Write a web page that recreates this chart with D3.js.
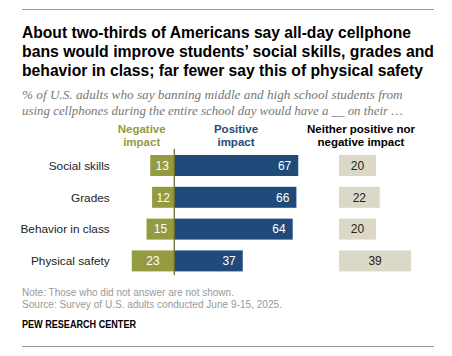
<!DOCTYPE html>
<html><head><meta charset="utf-8">
<script src="https://cdn.jsdelivr.net/npm/d3@7"></script>
<style>body{margin:0;background:#fff}svg{display:block}</style>
</head><body>
<script>
const categories = ["Social skills","Grades","Behavior in class","Physical safety"];
const negative = [13,12,15,23];
const positive = [67,66,64,37];
const neither = [20,22,20,39];
const titleLines = ["About two-thirds of Americans say all-day cellphone","bans would improve students\u2019 social skills, grades and","behavior in class; far fewer say this of physical safety"];
const subtitleLines = ["% of U.S. adults who say banning middle and high school students from","using cellphones during the entire school day would have a __ on their \u2026"];
const headers = {neg:["Negative","impact"],pos:["Positive","impact"],nei:["Neither positive nor","negative impact"]};
const notes = ["Note: Those who did not answer are not shown.","Source: Survey of U.S. adults conducted June 9-15, 2025."];
const credit = "PEW RESEARCH CENTER";

const W=452,H=356;
const svg=d3.select("body").append("svg").attr("width",W).attr("height",H);
const sans="'Liberation Sans', Arial, sans-serif";
const cNeg="#949a3f", cPos="#1f4a7a", cNei="#dcd8c7";

function fitText(sel,target){
  const n=sel.node(); const w=n.getComputedTextLength();
  if(Math.abs(w-target)>1) sel.attr("textLength",target).attr("lengthAdjust","spacingAndGlyphs");
}
function fitSize(sel,target,fs){
  const w=sel.node().getComputedTextLength();
  sel.attr("font-size",(fs*target/w).toFixed(2));
}
// rules
svg.append("line").attr("x1",22).attr("x2",434).attr("y1",9.5).attr("y2",9.5).attr("stroke","#999").attr("stroke-width",1);
svg.append("line").attr("x1",22).attr("x2",434).attr("y1",346.5).attr("y2",346.5).attr("stroke","#999").attr("stroke-width",1);

const tw=[389,412,401];
titleLines.forEach((t,i)=>{
  const s=svg.append("text").attr("x",22).attr("y",37.5+i*19.3).attr("font-family",sans).attr("font-weight","bold").attr("font-size",16.5).attr("fill","#000").text(t);
  fitText(s,tw[i]);
});
subtitleLines.forEach((t,i)=>{
  const s=svg.append("text").attr("x",22).attr("y",99+i*16).attr("font-family","'Liberation Serif', Georgia, serif").attr("font-style","italic").attr("font-size",13).attr("fill","#777").text(t);
  fitSize(s,381,13);
});

const x=d3.scaleLinear().domain([0,100]).range([0,185]);
const x0=174.3, nx0=339;
const y=d3.scaleBand().domain(categories).range([155,271.4]).paddingInner(0.34).paddingOuter(0);
const bh=y.bandwidth();

function header(lines,cx,color){
  lines.forEach((l,i)=>svg.append("text").attr("x",cx).attr("y",133+i*13.3).attr("text-anchor","middle").attr("font-family",sans).attr("font-weight","bold").attr("font-size",11.5).attr("fill",color).text(l));
}
header(headers.neg,141.7,cNeg);
header(headers.pos,236,cPos);
header(headers.nei,361,"#000");

const g=svg.append("g");
categories.forEach((c,i)=>{
  const yy=y(c);
  g.append("rect").attr("x",x0-x(negative[i])).attr("y",yy).attr("width",x(negative[i])).attr("height",bh).attr("fill",cNeg);
  g.append("rect").attr("x",x0).attr("y",yy).attr("width",x(positive[i])).attr("height",bh).attr("fill",cPos);
  g.append("rect").attr("x",nx0).attr("y",yy).attr("width",x(neither[i])).attr("height",bh).attr("fill",cNei);
  const ty=yy+bh/2+4.3;
  g.append("text").attr("x",x0-x(negative[i])/2).attr("y",ty).attr("text-anchor","middle").attr("font-family",sans).attr("font-size",12).attr("fill","#fff").text(negative[i]);
  g.append("text").attr("x",x0+x(positive[i])-7).attr("y",ty).attr("text-anchor","end").attr("font-family",sans).attr("font-size",12).attr("fill","#fff").text(positive[i]);
  g.append("text").attr("x",nx0+x(neither[i])/2).attr("y",ty).attr("text-anchor","middle").attr("font-family",sans).attr("font-size",12).attr("fill","#222").text(neither[i]);
  g.append("text").attr("x",109.7).attr("y",ty).attr("text-anchor","end").attr("font-family",sans).attr("font-size",11.8).attr("fill","#222").text(c);
});
svg.append("line").attr("x1",x0).attr("x2",x0).attr("y1",149).attr("y2",275).attr("stroke","#6f7030").attr("stroke-width",1.3);

const nw=[212,260];
notes.forEach((t,i)=>{
  const s=svg.append("text").attr("x",22).attr("y",295.5+i*12).attr("font-family",sans).attr("font-size",10).attr("fill","#999").text(t);
  fitSize(s,nw[i],10);
});
const cr=svg.append("text").attr("x",22).attr("y",327.5).attr("font-family",sans).attr("font-weight","bold").attr("font-size",10).attr("fill","#000").text(credit);
fitText(cr,114);
</script>
</body></html>
